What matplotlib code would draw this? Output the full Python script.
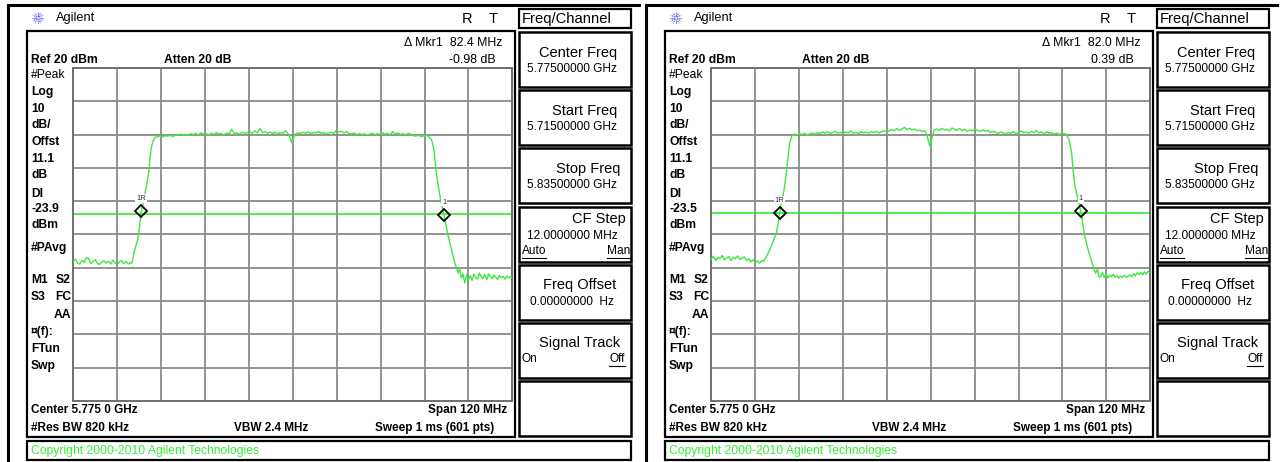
import matplotlib
matplotlib.use("Agg")
import matplotlib.pyplot as plt
from matplotlib.patches import Rectangle
import numpy as np

plt.rcParams['font.family'] = ['Liberation Sans', 'DejaVu Sans']

# ---------------- data ----------------
START_MHZ = 5715.0
STOP_MHZ = 5835.0
REF_DBM = 20.0
DB_PER_DIV = 10.0

# left screen trace (offset from start freq in MHz, level in dBm)
left_off = [0.0, 0.6, 1.2, 1.8, 2.4, 3.0, 3.6, 4.2, 4.8, 5.4, 6.0, 6.6, 7.2, 7.8, 8.4, 9.0,
            9.6, 10.2, 10.8, 11.4, 12.0, 12.6, 13.2, 13.8, 14.4, 15.0, 15.6,
            16.0, 16.4, 16.9, 17.6, 18.0, 18.2, 18.5, 19.1, 19.6, 20.3, 20.7, 21.0, 21.4, 21.9, 22.3,
            23.0, 23.7, 24.4, 25.1, 25.8, 26.5, 27.2, 27.9, 28.6, 29.3, 30.0, 30.7, 31.4, 32.1, 32.8,
            33.5, 34.2, 34.9, 35.6, 36.3, 37.0, 37.7, 38.4, 39.1, 39.8, 40.5, 41.2, 41.9, 42.6, 43.3,
            44.0, 44.7, 45.4, 46.1, 46.8, 47.5, 48.2, 48.9, 49.6, 50.3, 51.0, 51.7, 52.4, 53.1, 53.8,
            54.5, 55.2, 55.9, 56.6, 57.3, 58.0, 58.7, 59.2, 59.7, 60.2, 60.7, 61.4, 62.1, 62.8, 63.5,
            64.2, 64.9, 65.6, 66.3, 67.0, 67.7, 68.4, 69.1, 69.8, 70.5, 71.2, 71.9, 72.6, 73.3, 74.0,
            74.7, 75.4, 76.1, 76.8, 77.5, 78.2, 78.9, 79.6, 80.3, 81.0, 81.7, 82.4, 83.1, 83.8, 84.5,
            85.2, 85.9, 86.6, 87.3, 88.0, 88.7, 89.4, 90.1, 90.8, 91.5, 92.2, 92.9, 93.6, 94.3, 95.0,
            95.7, 96.6,
            97.95, 98.6, 99.1, 99.8, 100.4, 101.1, 101.6, 102.5, 103.4, 104.3, 105.2, 105.6, 106.1,
            106.5, 107.0,
            107.5, 108.0, 108.5, 109.0, 109.5, 110.0, 110.5, 111.0, 111.5, 112.0, 112.5, 113.0, 113.5,
            114.0, 114.5, 115.0, 115.5, 116.0, 116.5, 117.0, 117.5, 118.0, 118.5, 119.0, 119.5, 120.0]
left_dbm = [-38.2, -37.4, -38.6, -38.9, -37.8, -38.4, -36.9, -37.2, -38.8, -38.1, -37.5, -38.7,
            -39.0, -38.2, -37.9, -38.6, -38.0, -38.9, -37.7, -38.5, -39.1, -38.3, -37.8, -38.8,
            -38.1, -38.9, -38.4,
            -38.6, -36.6, -34.1, -31.6, -28.6, -26.6, -23.6, -20.6, -17.6, -13.6, -10.6, -6.6, -3.6,
            -1.6, -0.8,
            -0.6, -0.4, -0.7, -0.3, -0.5, -0.2, -0.6, -0.1, -0.3, 0.2, -0.2, 0.1, -0.3, 0.3, 0.0,
            0.4, -0.1, 0.5, 0.1, 0.3, -0.2, 0.4, 0.0, 0.6, 0.2, 0.3, -0.1, 0.5, 0.2, 1.6,
            0.3, 0.6, 0.1, 0.7, 0.3, 0.5, 0.9, 0.4, 1.1, 0.5, 1.8, 0.6, 0.9, 0.4, 0.8,
            0.3, 0.7, 0.2, 0.6, 0.4, 1.2, 0.3, -0.8, -2.4, -1.0, 0.2, 0.5, 0.3, 0.7, 0.4,
            0.8, 0.3, 0.6, 0.5, 0.9, 0.4, 0.6, 0.2, 0.5, 0.7, 0.4, 1.3, 0.8, 1.0, 0.5,
            0.9, 0.3, 0.2, 0.5, -0.1, 0.3, 0.0, 0.2, -0.2, 0.1, 0.4, -0.1, 0.3, 0.0, 0.6,
            0.1, 0.4, -0.1, 0.9, 0.2, 0.5, 0.0, 0.3, -0.2, 0.4, 0.1, -0.3, -0.5, -0.1, -0.6,
            -0.4, -0.1,
            -1.6, -4.6, -10.6, -15.6, -19.6, -23.1, -25.6, -30.6, -34.6, -38.6, -41.6, -40.2, -43.1,
            -41.8, -44.6,
            -42.1, -43.5, -42.4, -43.8, -41.9, -42.9, -43.4, -41.6, -42.8, -43.2, -42.0, -43.6, -41.8,
            -42.7, -43.3, -42.2, -42.9, -43.5, -42.3, -43.0, -42.6, -43.4, -42.5, -43.1, -42.7, -43.0]

# right screen trace
right_off = [0.0, 0.6, 1.2, 1.8, 2.4, 3.0, 3.6, 4.2, 4.8, 5.4, 6.0, 6.6, 7.2, 7.8, 8.4, 9.0,
             9.6, 10.2, 10.8, 11.4, 12.0, 12.6, 13.2, 13.8,
             14.2, 15.1, 16.0, 16.9, 17.8, 18.3, 18.7, 19.3, 19.9, 20.5, 21.0, 21.4, 22.0,
             22.7, 23.4, 24.1, 24.8, 25.5, 26.2, 26.9, 27.6, 28.3, 29.0, 29.7, 30.4, 31.1, 31.8,
             32.5, 33.2, 33.9, 34.6, 35.3, 36.0, 36.7, 37.4, 38.1, 38.8, 39.5, 40.2, 40.9, 41.6,
             42.3, 43.0, 43.7, 44.4, 45.1, 45.8, 46.5, 47.2, 47.9, 48.6, 49.3, 50.0, 50.7, 51.4,
             52.1, 52.8, 53.5, 54.2, 54.9, 55.6, 56.3, 57.0, 57.7, 58.4, 59.0, 59.7, 60.3, 60.9,
             61.6, 62.3, 63.0, 63.7, 64.4, 65.1, 65.8, 66.5, 67.2, 67.9, 68.6, 69.3, 70.0, 70.7,
             71.4, 72.1, 72.8, 73.5, 74.2, 74.9, 75.6, 76.3, 77.0, 77.7, 78.4, 79.1, 79.8, 80.5,
             81.2, 81.9, 82.6, 83.3, 84.0, 84.7, 85.4, 86.1, 86.8, 87.5, 88.2, 88.9, 89.6, 90.3,
             91.0, 91.7, 92.4, 93.1, 93.8, 94.5, 95.2, 95.9, 96.9,
             97.8, 98.5, 98.9, 99.4, 100.1, 100.8, 101.4, 102.1, 103.0, 104.1, 105.0, 105.6, 106.0,
             106.4,
             106.9, 107.4, 107.9, 108.4, 108.9, 109.4, 109.9, 110.4, 110.9, 111.4, 111.9, 112.4,
             112.9, 113.4, 113.9, 114.4, 114.9, 115.4, 115.9, 116.4, 116.9, 117.4, 117.9, 118.4,
             118.9, 119.4, 120.0]
right_dbm = [-37.4, -36.5, -37.8, -36.9, -37.2, -36.3, -37.6, -37.0, -36.6, -37.9, -36.8, -37.3,
             -36.4, -37.5, -37.1, -36.7, -37.8, -37.3, -38.2, -37.6, -38.4, -37.9, -38.6, -37.8,
             -38.1, -36.6, -34.6, -32.1, -29.6, -26.6, -23.4, -19.6, -16.6, -11.6, -6.6, -2.6, -0.4,
             0.2, -0.1, 0.3, 0.0, 0.4, -0.1, 0.2, 0.5, 0.1, 0.6, 0.3, 0.8, 0.4, 0.9,
             0.3, 0.6, 1.0, 0.4, 0.7, 0.2, 0.8, 0.5, 1.1, 0.4, 0.7, 0.3, 0.9, 0.5,
             0.8, 0.4, 0.9, 0.6, 1.0, 0.5, 0.8, 1.2, 0.7, 1.1, 1.5, 1.2, 1.8, 1.3,
             1.6, 2.2, 1.5, 1.9, 1.4, 1.7, 1.1, 1.4, 0.9, 1.2, -0.5, -3.4, -1.2, 1.3,
             1.7, 1.2, 1.9, 1.4, 1.6, 1.1, 2.0, 1.5, 1.3, 1.8, 1.2, 1.6, 1.0, 1.4,
             1.1, 1.7, 1.3, 0.9, 1.4, 1.0, 1.2, 0.6, 1.0, 0.7, 0.3, 0.8, 0.5, 0.2,
             0.6, 0.4, 0.9, 0.3, 0.7, 1.1, 0.5, 0.8, 0.4, 1.0, 0.6, 1.2, 0.5, 0.8,
             0.2, 0.9, 0.4, 0.6, 0.1, 0.5, 0.0, 0.4, 0.2,
             -1.6, -5.6, -10.6, -15.6, -18.6, -22.1, -25.6, -30.6, -34.6, -38.6, -41.6, -40.5, -42.8,
             -42.6,
             -41.4, -42.9, -41.8, -43.0, -42.2, -42.7, -41.9, -42.8, -42.4, -43.1, -42.5, -42.9,
             -42.3, -42.8, -42.6, -42.1, -42.7, -41.8, -42.4, -41.5, -42.0, -41.3, -42.1, -41.2,
             -41.9, -41.0, -41.7]

# markers (offset MHz, dBm)
left_mkr_ref = (18.5, -23.0)
left_mkr = (101.4, -24.0)
right_mkr_ref = (18.7, -23.4)
right_mkr = (101.0, -23.0)

left_dl = -23.9
right_dl = -23.5

left_delta = ("82.4 MHz", "-0.98 dB")
right_delta = ("82.0 MHz", "0.39 dB")

softkey_titles = ["Center Freq", "Start Freq", "Stop Freq", "CF Step", "Freq Offset", "Signal Track", ""]
softkey_values = ["5.77500000 GHz", "5.71500000 GHz", "5.83500000 GHz", "12.0000000 MHz",
                  "0.00000000  Hz", "", ""]

# ---------------- drawing ----------------
W, H = 1283, 462
fig = plt.figure(figsize=(W / 100, H / 100), dpi=100)
bg = fig.add_axes([0, 0, 1, 1])
bg.set_xlim(0, W)
bg.set_ylim(H, 0)
bg.axis('off')

TRACE = '#3ee83e'
DLC = '#20e820'
GRID = '#8a8a8a'


def rect(x0, y0, x1, y1, lw=1.5, color='black'):
    bg.add_patch(Rectangle((x0, y0), x1 - x0, y1 - y0, fill=False, lw=lw, ec=color, zorder=3))


def txt(x, y, s, size=8.7, weight='normal', ha='left', color='black', **kw):
    bg.text(x, y, s, fontsize=size, fontweight=weight, ha=ha, va='center', color=color, **kw)


def underline(x0, x1, y):
    bg.plot([x0, x1], [y, y], color='black', lw=0.8)


def panel(ox, off, dbm, mref, mk, dl, delta, dl_text):
    # outer frame
    bg.plot([ox + 8, ox + 8], [5, 461], color='black', lw=2.2)
    bg.plot([ox + 8, ox + 639], [5, 5], color='black', lw=2.2)
    # logo
    cx, cy = ox + 38, 18
    for a in np.linspace(0, 2 * np.pi, 12, endpoint=False):
        bg.plot([cx + 1.5 * np.cos(a), cx + 6 * np.cos(a)], [cy + 1.5 * np.sin(a), cy + 6 * np.sin(a)],
                color='#3a4fe0', lw=0.8, ls=(0, (1, 0.8)))
    txt(ox + 56, 18, "Agilent", size=9.2)
    txt(ox + 467, 19, "R", size=10.5, ha='center')
    txt(ox + 493, 19, "T", size=10.5, ha='center')
    # screen box
    rect(ox + 27, 31, ox + 514.5, 437, lw=1.6)
    # copyright box
    rect(ox + 27, 441, ox + 631, 460, lw=1.6)
    txt(ox + 31, 451, "Copyright 2000-2010 Agilent Technologies", size=8.7, color='#33f033')
    # top annotations
    txt(ox + 31, 60, "Ref 20 dBm", size=8.7, weight='bold')
    txt(ox + 164, 60, "Atten 20 dB", size=8.7, weight='bold')
    txt(ox + 502, 43, "\u0394 Mkr1  " + delta[0], size=8.9, ha='right')
    txt(ox + 496, 60, delta[1], size=8.9, ha='right')
    # left column
    col = [("#Peak", 75, 'normal'), ("Log", 92, 'bold'), ("10", 108.5, 'bold'), ("dB/", 125, 'bold'),
           ("Offst", 142, 'bold'), ("11.1", 158.5, 'bold'), ("dB", 175, 'bold'), ("Dl", 194, 'bold'),
           (dl_text, 209.5, 'bold'), ("dBm", 224.5, 'bold'), ("#PAvg", 247.5, 'bold'),
           ("M1", 280, 'bold'), ("S3", 297.5, 'bold'), ("\u00a4(f):", 332.5, 'bold'),
           ("FTun", 349.5, 'bold'), ("Swp", 366.5, 'bold')]
    for s, y, w in col:
        txt(ox + 31, y, s, size=8.7, weight=w)
    txt(ox + 71, 280, "S2", size=8.7, weight='bold', ha='right')
    txt(ox + 71, 297.5, "FC", size=8.7, weight='bold', ha='right')
    txt(ox + 71, 315, "AA", size=8.7, weight='bold', ha='right')
    # bottom annotations
    txt(ox + 31, 410, "Center 5.775 0 GHz", size=8.5, weight='bold')
    txt(ox + 507, 410, "Span 120 MHz", size=8.5, weight='bold', ha='right')
    txt(ox + 31, 428, "#Res BW 820 kHz", size=8.5, weight='bold')
    txt(ox + 271, 428, "VBW 2.4 MHz", size=8.5, weight='bold', ha='center')
    txt(ox + 494, 428, "Sweep 1 ms (601 pts)", size=8.5, weight='bold', ha='right')
    # softkeys
    rect(ox + 519, 8.5, ox + 631, 28, lw=1.6)
    txt(ox + 522, 19, "Freq/Channel", size=10.6)
    tops = [32, 90, 148, 206.5, 265, 323, 381]
    title_right = [617, 617, 620, 626, 616, 620, 0]
    title_dy = [20.5, 20.5, 21, 12.5, 20.5, 20.3, 0]
    value_dy = [37.3, 37.3, 36.5, 29.5, 36.7, 0, 0]
    value_x = [527, 527, 527, 527, 530, 0, 0]
    for i, t in enumerate(tops):
        rect(ox + 519, t, ox + 631, t + 55, lw=1.8)
        if softkey_titles[i]:
            txt(ox + title_right[i], t + title_dy[i], softkey_titles[i], size=10.5, ha='right')
        if softkey_values[i]:
            txt(ox + value_x[i], t + value_dy[i], softkey_values[i], size=8.6)
    txt(ox + 522, 251.5, "Auto", size=8.6)
    underline(ox + 522, ox + 546, 257.5)
    txt(ox + 630, 251.5, "Man", size=8.6, ha='right')
    underline(ox + 607, ox + 630, 257.5)
    txt(ox + 522, 359.5, "On", size=8.6)
    txt(ox + 625, 359.5, "Off", size=8.6, ha='right')
    underline(ox + 609, ox + 625, 365.5)

    # data axes
    gx0, gx1, gy0, gy1 = ox + 73.3, ox + 512.3, 68.0, 401.0
    ax = fig.add_axes([gx0 / W, 1 - gy1 / H, (gx1 - gx0) / W, (gy1 - gy0) / H])
    ax.set_facecolor('white')
    ax.set_xlim(START_MHZ, STOP_MHZ)
    ax.set_ylim(REF_DBM - 10 * DB_PER_DIV, REF_DBM)
    ax.set_xticks(np.linspace(START_MHZ, STOP_MHZ, 11))
    ax.set_yticks(np.linspace(REF_DBM - 10 * DB_PER_DIV, REF_DBM, 11))
    ax.grid(True, color=GRID, lw=1.3)
    ax.tick_params(length=0, labelbottom=False, labelleft=False)
    for sp in ax.spines.values():
        sp.set_color('#6f6f6f')
        sp.set_linewidth(1.4)
    f = START_MHZ + np.asarray(off)
    ax.plot(f, dbm, color=TRACE, lw=1.0, zorder=3)
    ax.axhline(dl, color=DLC, lw=1.1, zorder=2)
    for (mo, md), lab in ((mref, "1R"), (mk, "1")):
        ax.plot(START_MHZ + mo, md, marker='D', ms=6, mfc='none', mec='black', mew=1.3, zorder=5)
        ax.annotate(lab, (START_MHZ + mo, md), xytext=(0, 9), textcoords='offset points',
                    ha='center', va='center', fontsize=5.5, color='#333333', zorder=6,
                    bbox=dict(boxstyle='square,pad=0.1', fc='white', ec='none'))
    return ax


panel(0, left_off, left_dbm, left_mkr_ref, left_mkr, left_dl, left_delta, "-23.9")
panel(638, right_off, right_dbm, right_mkr_ref, right_mkr, right_dl, right_delta, "-23.5")

fig.savefig("out.png", dpi=100)
